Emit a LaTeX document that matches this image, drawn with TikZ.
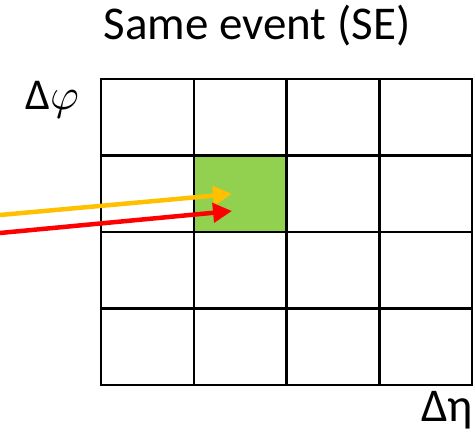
\documentclass[tikz,border=0pt]{standalone}
\usepackage{fontspec}
\usepackage{unicode-math}
\setmainfont{Carlito}
\setmathfont{Latin Modern Math}
\usetikzlibrary{arrows.meta}
\definecolor{cellgreen}{HTML}{92D050}
\definecolor{trackorange}{HTML}{FFC000}
\definecolor{trackred}{HTML}{FF0000}

\begin{document}
\begin{tikzpicture}[
  x=1pt,y=1pt,
  cell/.style={draw=black,line width=2.5pt,minimum width=92.75pt,minimum height=76.5pt,inner sep=0pt,outer sep=0pt},
  hit/.style={cell,fill=cellgreen},
  track/.style={line width=4.5pt,-{Triangle[length=19pt,width=19pt]}},
  label/.style={inner sep=0pt,anchor=base west,font=\fontsize{44}{50}\selectfont}
]
\useasboundingbox (0,0) rectangle (475,437);
% 4x4 grid of cells
\foreach \i in {1,...,4}{
  \foreach \j in {1,...,4}{
    \node[cell] (c-\i-\j) at ({101+92.75*(\i-0.5)},{52+76.5*(\j-0.5)}) {};
  }
}
\node[hit] (c-2-3) at ({101+92.75*1.5},{52+76.5*2.5}) {};
% axis labels and title
\node[inner sep=0pt,anchor=base,font=\fontsize{47}{54}\selectfont] (title) at (257,397) {Same event (SE)};
\node[label] (dphi) at (25,327) {Δ$\varphi$};
\node[label,font=\fontsize{47}{54}\selectfont] (deta) at (421,15) {Δη};
% incoming pairs
\coordinate (o-in) at (0,222);
\coordinate (r-in) at (0,204);
\coordinate (o-end) at (232,243);
\coordinate (r-end) at (232,226);
\draw[track,trackorange] (o-in) -- (o-end);
\draw[track,trackred] (r-in) -- (r-end);
\end{tikzpicture}
\end{document}
